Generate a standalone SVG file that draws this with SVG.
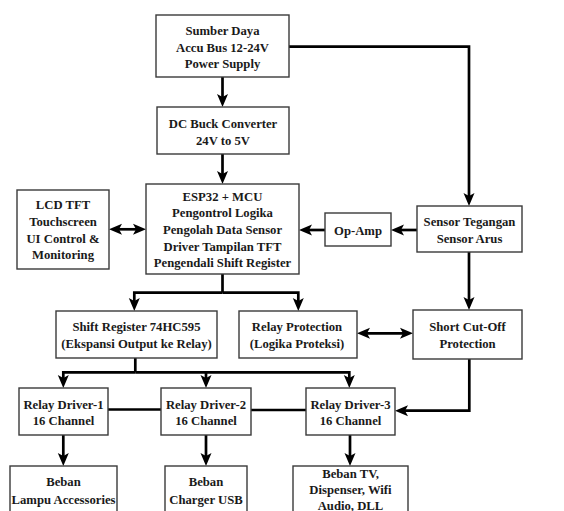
<svg xmlns="http://www.w3.org/2000/svg" width="564" height="511" viewBox="0 0 564 511">
<style>
.box{fill:#fff;stroke:#3a3a3a;stroke-width:1.4}
.t{font-family:"Liberation Serif","Times New Roman",serif;font-weight:bold;font-size:12.7px;fill:#1a1a1a;text-anchor:middle}
.c{fill:none;stroke:#000;stroke-width:2.7}
.a{marker-end:url(#ah)}
.d{marker-start:url(#ah);marker-end:url(#ah)}
</style>
<defs>
<marker id="ah" markerUnits="userSpaceOnUse" viewBox="-8 -6 15 12" refX="0" refY="0" markerWidth="15" markerHeight="12" orient="auto-start-reverse">
<path d="M6,0 L-7,-5.5 L-4,0 L-7,5.5 Z" fill="#000"/>
</marker>
</defs>
<rect width="564" height="511" fill="#fff"/>
<g id="connectors">
<path class="c a" d="M222.5,77 V101"/>
<path class="c a" d="M289,46.7 H469 V200"/>
<path class="c a" d="M222.5,154 V178"/>
<path class="c d" d="M115,229.3 H140"/>
<path class="c a" d="M325,230 H305"/>
<path class="c a" d="M417,230 H397"/>
<path class="c a" d="M469,252 V304"/>
<path class="c" d="M222.5,274 V292.7"/>
<path class="c a" d="M222.5,292.7 H134.3 V305"/>
<path class="c a" d="M222.5,292.7 H298.3 V305"/>
<path class="c d" d="M363,333.3 H407"/>
<path class="c" d="M135.3,358 V372.3"/>
<path class="c a" d="M135.3,372.3 H63.3 V382"/>
<path class="c a" d="M135.3,372.3 H349.3 V382"/>
<path class="c a" d="M206,372.3 V382"/>
<path class="c" d="M108,409.5 H161"/>
<path class="c" d="M251,410 H306"/>
<path class="c a" d="M469.3,359 V410.7 H401"/>
<path class="c a" d="M63.3,435 V460"/>
<path class="c a" d="M206,435 V460"/>
<path class="c a" d="M350,435 V460"/>
</g>
<g id="power">
<rect class="box" x="156" y="15" width="133" height="62"/>
<text class="t" x="222.5" y="34.5">Sumber Daya</text>
<text class="t" x="222.5" y="51.5">Accu Bus 12-24V</text>
<text class="t" x="222.5" y="67.5">Power Supply</text>
</g>
<g id="buck">
<rect class="box" x="157" y="107" width="132" height="47"/>
<text class="t" x="223" y="127.5">DC Buck Converter</text>
<text class="t" x="223" y="144.5">24V to 5V</text>
</g>
<g id="esp">
<rect class="box" x="146" y="184" width="153" height="90"/>
<text class="t" x="222.5" y="200.5">ESP32 + MCU</text>
<text class="t" x="222.5" y="217.2">Pengontrol Logika</text>
<text class="t" x="222.5" y="233.8">Pengolah Data Sensor</text>
<text class="t" x="222.5" y="250.5">Driver Tampilan TFT</text>
<text class="t" x="222.5" y="267.2">Pengendali Shift Register</text>
</g>
<g id="lcd">
<rect class="box" x="17" y="190" width="92" height="79"/>
<text class="t" x="63" y="208.5">LCD TFT</text>
<text class="t" x="63" y="225.8">Touchscreen</text>
<text class="t" x="63" y="242.8">UI Control &amp;</text>
<text class="t" x="63" y="259.2">Monitoring</text>
</g>
<g id="opamp">
<rect class="box" x="325" y="213" width="66" height="33"/>
<text class="t" x="358" y="235.2">Op-Amp</text>
</g>
<g id="sensor">
<rect class="box" x="417" y="206" width="105" height="46"/>
<text class="t" x="469.5" y="226.2">Sensor Tegangan</text>
<text class="t" x="469.5" y="242.8">Sensor Arus</text>
</g>
<g id="shortcut">
<rect class="box" x="413" y="310" width="109" height="49"/>
<text class="t" x="467.5" y="331.2">Short Cut-Off</text>
<text class="t" x="467.5" y="347.8">Protection</text>
</g>
<g id="shiftreg">
<rect class="box" x="56" y="311" width="161" height="47"/>
<text class="t" x="136.5" y="331.2">Shift Register 74HC595</text>
<text class="t" x="136.5" y="347.8">(Ekspansi Output ke Relay)</text>
</g>
<g id="relayprot">
<rect class="box" x="239" y="311" width="118" height="47"/>
<text class="t" x="297" y="331.2">Relay Protection</text>
<text class="t" x="297" y="347.8">(Logika Proteksi)</text>
</g>
<g id="rd1">
<rect class="box" x="19" y="388" width="89" height="47"/>
<text class="t" x="63.5" y="408.5">Relay Driver-1</text>
<text class="t" x="63.5" y="425.2">16 Channel</text>
</g>
<g id="rd2">
<rect class="box" x="161" y="388" width="90" height="47"/>
<text class="t" x="206" y="408.5">Relay Driver-2</text>
<text class="t" x="206" y="425.2">16 Channel</text>
</g>
<g id="rd3">
<rect class="box" x="306" y="388" width="89" height="47"/>
<text class="t" x="350.5" y="408.5">Relay Driver-3</text>
<text class="t" x="350.5" y="425.2">16 Channel</text>
</g>
<g id="beban1">
<rect class="box" x="10" y="466" width="107" height="60"/>
<text class="t" x="63.5" y="486.2">Beban</text>
<text class="t" x="63.5" y="503.5">Lampu Accessories</text>
</g>
<g id="beban2">
<rect class="box" x="165" y="466" width="82" height="60"/>
<text class="t" x="206" y="486.2">Beban</text>
<text class="t" x="206" y="503.5">Charger USB</text>
</g>
<g id="beban3">
<rect class="box" x="293" y="466" width="115" height="60"/>
<text class="t" x="350.5" y="478">Beban TV,</text>
<text class="t" x="350.5" y="494">Dispenser, Wifi</text>
<text class="t" x="350.5" y="509.5">Audio, DLL</text>
</g>
</svg>
